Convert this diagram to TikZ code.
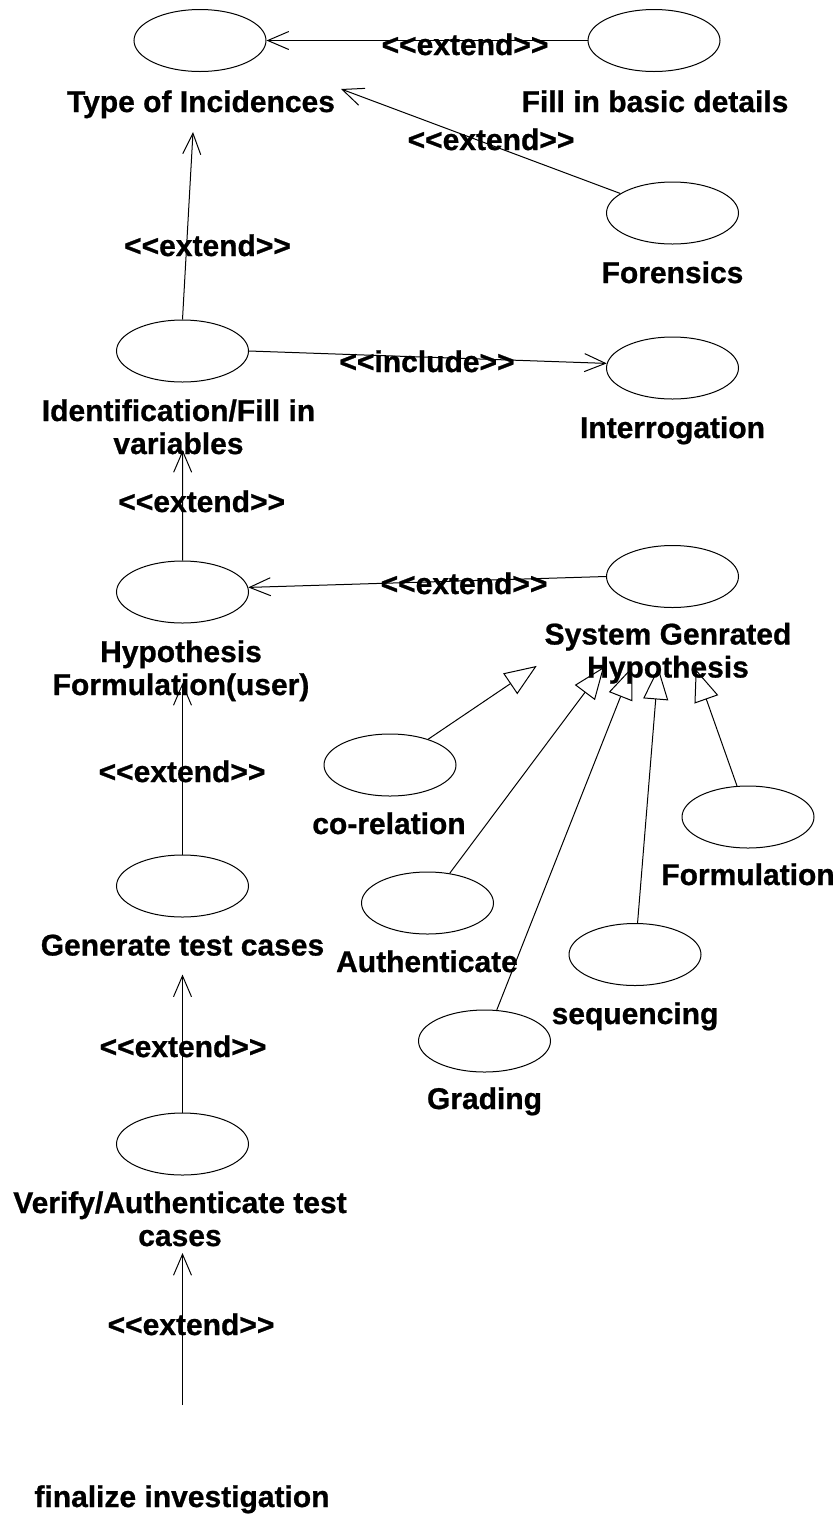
\documentclass[tikz,border=0pt]{standalone}
\usepackage{fontspec}
\setmainfont{Liberation Sans}[Ligatures=TeXOff,BoldFeatures={FakeBold=0.8}]
\usetikzlibrary{arrows.meta,shapes.geometric}
% two centred lines whose first baseline is the node baseline
\newcommand\twolines[2]{\begin{tabular}[t]{@{}c@{}}#1\\#2\end{tabular}}
\begin{document}
\begin{tikzpicture}[x=1pt,y=-1pt,
  usecase/.style={draw, ellipse, line width=1pt, minimum width=132pt,
                  minimum height=62pt, inner sep=0pt},
  caption/.style={anchor=base, inner sep=0pt,
                  font=\bfseries\fontsize{30}{33}\selectfont},
  extendarrow/.style={line width=1pt, -{Straight Barb[length=21pt,width=18pt]}},
  genarrow/.style={line width=1pt, -{Triangle[open,length=32pt,width=25pt]}}]

\fill[white] (0,0) rectangle (838,1516);
\useasboundingbox (0,0) rectangle (838,1516);

% use cases
\node[usecase] (toi) at (200,40.5) {};
\node[usecase] (fil) at (654,40.5) {};
\node[usecase] (for) at (672.5,213) {};
\node[usecase] (idf) at (182.5,351) {};
\node[usecase] (int) at (672.5,368) {};
\node[usecase] (hyp) at (182.5,592) {};
\node[usecase] (sys) at (672.5,576.5) {};
\node[usecase] (cor) at (390,765) {};
\node[usecase] (frm) at (748,817) {};
\node[usecase] (aut) at (427.5,903) {};
\node[usecase] (seq) at (635,954.5) {};
\node[usecase] (grd) at (484.5,1041) {};
\node[usecase] (gen) at (182.5,886) {};
\node[usecase] (ver) at (182.5,1144) {};

% use case names
\node[caption] (toiT) at (201,112) {Type of Incidences};
\node[caption] (filT) at (655,112) {Fill in basic details};
\node[caption] (forT) at (672.5,283) {Forensics};
\node[caption] (idfT) at (178.5,421) {\twolines{Identification/Fill in}{variables}};
\node[caption] (intT) at (672.5,438) {Interrogation};
\node[caption] (hypT) at (181,662) {\twolines{Hypothesis}{Formulation(user)}};
\node[caption] (sysT) at (668,644.5) {\twolines{System Genrated}{Hypothesis}};
\node[caption] (corT) at (389,834) {co-relation};
\node[caption] (frmT) at (748,885) {Formulation};
\node[caption] (autT) at (427,972) {Authenticate};
\node[caption] (genT) at (182.5,955.5) {Generate test cases};
\node[caption] (seqT) at (635,1024) {sequencing};
\node[caption] (grdT) at (484.5,1109) {Grading};
\node[caption] (verT) at (180,1213) {\twolines{Verify/Authenticate test}{cases}};
\node[caption] (finT) at (182,1507) {finalize investigation};

% stereotypes on the relations
\node[caption] (s1) at (465,55) {<<extend>>};
\node[caption] (s2) at (491,150) {<<extend>>};
\node[caption] (s3) at (207.5,256) {<<extend>>};
\node[caption] (s4) at (427,372) {<<include>>};
\node[caption] (s5) at (201.7,512) {<<extend>>};
\node[caption] (s6) at (464,594) {<<extend>>};
\node[caption] (s7) at (182,782) {<<extend>>};
\node[caption] (s8) at (183,1057) {<<extend>>};
\node[caption] (s9) at (191,1335) {<<extend>>};

% extend / include relations
\draw[extendarrow] (fil) -- (toi);
\draw[extendarrow] (for) -- ([shift={(140,-23)}]toiT.base);
\draw[extendarrow] (idf.north) -- ([shift={(-8,20)}]toiT.base);
\draw[extendarrow] (idf.east) -- (int.176);
\draw[extendarrow] (hyp.north) -- ([shift={(4.2,29)}]idfT.base);
\draw[extendarrow] (sys.west) -- (hyp.4);
\draw[extendarrow] (gen.north) -- ([shift={(1.5,21)}]hypT.base);
\draw[extendarrow] (ver.north) -- ([shift={(0,19)}]genT.base);
\coordinate (finEnd) at (182.5,1405);
\draw[extendarrow] (finEnd) -- ([shift={(2.5,40)}]verT.base);

% generalisations towards the system generated hypothesis
\coordinate (g1) at ([shift={(-131.3,21.4)}]sysT.base);
\coordinate (g2) at ([shift={(-64,22.4)}]sysT.base);
\coordinate (g3) at ([shift={(-35.7,22.4)}]sysT.base);
\coordinate (g4) at ([shift={(-9.7,23)}]sysT.base);
\coordinate (g5) at ([shift={(27.7,24.7)}]sysT.base);
\draw[genarrow] (cor) -- (g1);
\draw[genarrow] (aut) -- (g2);
\draw[genarrow] (grd) -- (g3);
\draw[genarrow] (seq) -- (g4);
\draw[genarrow] (frm) -- (g5);
\end{tikzpicture}
\end{document}
